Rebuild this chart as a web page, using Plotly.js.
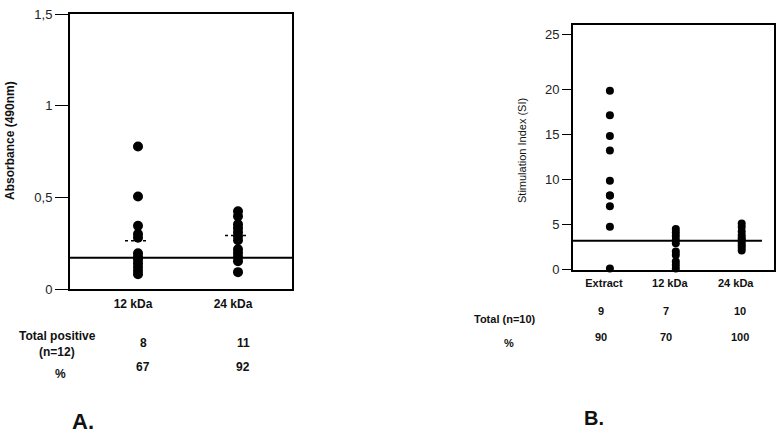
<!DOCTYPE html>
<html>
<head>
<meta charset="utf-8">
<script src="https://cdn.plot.ly/plotly-3.0.1.min.js"></script>
<style>html,body{margin:0;padding:0;background:#fff;}#chart{width:782px;height:438px;}</style>
</head>
<body>
<div id="chart"></div>
<script>
// ---- Panel A data (ELISA absorbance) ----
const catsA = ['12 kDa', '24 kDa'];
const abs12 = [0.777, 0.505, 0.345, 0.300, 0.280, 0.195, 0.175, 0.160, 0.140, 0.120, 0.100, 0.080];
const abs24 = [0.424, 0.397, 0.353, 0.332, 0.310, 0.288, 0.266, 0.217, 0.196, 0.174, 0.152, 0.092];
const meanA = [0.263, 0.292];
const cutoffA = 0.17;
const positiveA = [8, 11];
const pctA = [67, 92];
const yTicksA = [0, 0.5, 1, 1.5];
const yTextA = ['0', '0,5', '1', '1,5'];

// ---- Panel B data (stimulation index) ----
const catsB = ['Extract', '12 kDa', '24 kDa'];
const siExtract = [19.8, 17.1, 14.8, 13.2, 9.85, 8.2, 8.2, 7.0, 4.75, 0.1];
const si12 = [4.5, 4.1, 3.7, 3.3, 2.9, 2.0, 1.6, 0.9, 0.5, 0.1];
const si24 = [5.1, 4.7, 4.2, 3.8, 3.5, 3.3, 3.0, 2.7, 2.4, 2.1];
const cutoffB = 3.2;
const positiveB = [9, 7, 10];
const pctB = [90, 70, 100];
const yTicksB = [0, 5, 10, 15, 20, 26.1];
const yTextB = ['0', '5', '10', '15', '20', '25'];

const W = 782, H = 438;
const px = v => v / W;
const py = v => 1 - v / H;
const FONT = 'Arial, "Liberation Sans", sans-serif';

function dots(cat, vals, xa, ya, size) {
  return {
    type: 'scatter', mode: 'markers',
    x: vals.map(() => cat), y: vals,
    xaxis: xa, yaxis: ya,
    marker: {color: '#000', size: size, line: {width: 0}},
    cliponaxis: false, showlegend: false, hoverinfo: 'y'
  };
}

const data = [
  dots(catsA[0], abs12, 'x', 'y', 10),
  dots(catsA[1], abs24, 'x', 'y', 10),
  dots(catsB[0], siExtract, 'x2', 'y2', 8),
  dots(catsB[1], si12, 'x2', 'y2', 8),
  dots(catsB[2], si24, 'x2', 'y2', 8)
];

const shapes = [
  {type: 'line', xref: 'x domain', yref: 'y', x0: 0, x1: 1, y0: cutoffA, y1: cutoffA,
   line: {color: '#000', width: 2}},
  {type: 'line', xref: 'x2 domain', yref: 'y2', x0: 0, x1: 0.94, y0: cutoffB, y1: cutoffB,
   line: {color: '#000', width: 2}}
];
meanA.forEach((m, i) => {
  shapes.push({type: 'line', xref: 'x', yref: 'y', x0: i - 0.13, x1: i + 0.11, y0: m, y1: m,
    line: {color: '#000', width: 1.5, dash: 'dot'}});
});

const annotations = [];
function txt(x, y, text, size, bold, extra) {
  annotations.push(Object.assign({
    xref: 'paper', yref: 'paper', x: px(x), y: py(y), text: bold ? '<b>' + text + '</b>' : text,
    showarrow: false, xanchor: 'center', yanchor: 'middle',
    font: {family: FONT, size: size, color: '#111'}
  }, extra || {}));
}
// axis titles
txt(10, 141, 'Absorbance (490nm)', 12, true, {textangle: -90});
txt(522, 151, 'Stimulation Index (SI)', 11, false, {textangle: -90});
// table A
txt(57, 336, 'Total positive', 12, true);
txt(57, 352, '(n=12)', 12, true);
txt(60, 374, '%', 12, true);
positiveA.forEach((v, i) => annotations.push({xref: 'x', yref: 'paper', x: i, xshift: 5, y: py(352),
  text: '<b>' + v + '</b>', showarrow: false, font: {family: FONT, size: 12, color: '#111'}}));
pctA.forEach((v, i) => annotations.push({xref: 'x', yref: 'paper', x: i, xshift: 5, y: py(376),
  text: '<b>' + v + '</b>', showarrow: false, font: {family: FONT, size: 12, color: '#111'}}));
// table B
txt(505, 319, 'Total (n=10)', 11, true);
txt(509, 343, '%', 11, true);
positiveB.forEach((v, i) => annotations.push({xref: 'x2', yref: 'paper', x: i, xshift: [-9, -10, -2][i], y: py(319),
  text: '<b>' + v + '</b>', showarrow: false, font: {family: FONT, size: 11, color: '#111'}}));
pctB.forEach((v, i) => annotations.push({xref: 'x2', yref: 'paper', x: i, xshift: [-9, -10, -2][i], y: py(345),
  text: '<b>' + v + '</b>', showarrow: false, font: {family: FONT, size: 11, color: '#111'}}));
// panel letters
txt(83, 421, 'A.', 22, true);
txt(594, 418, 'B.', 20, true);

const axisCommon = {showgrid: false, zeroline: false, showline: true, linecolor: '#000', linewidth: 2, mirror: true, fixedrange: true};

const layout = {
  width: W, height: H,
  margin: {l: 0, r: 0, t: 0, b: 0},
  paper_bgcolor: '#fff', plot_bgcolor: '#fff',
  font: {family: FONT, color: '#111'},
  showlegend: false,
  xaxis: Object.assign({}, axisCommon, {
    domain: [px(70), px(292)], anchor: 'y', type: 'category', categoryarray: catsA,
    range: [-0.68, 1.54], ticks: '', ticklabelshift: -5, ticklabelstandoff: 3,
    tickfont: {family: FONT, size: 12, color: '#111', weight: 'bold'}
  }),
  yaxis: Object.assign({}, axisCommon, {
    domain: [py(289), py(14)], anchor: 'x', range: [0, 1.5],
    tickmode: 'array', tickvals: yTicksA, ticktext: yTextA,
    ticks: 'outside', ticklen: 13, tickwidth: 1, tickcolor: '#000',
    tickfont: {family: FONT, size: 13, color: '#222'}
  }),
  xaxis2: Object.assign({}, axisCommon, {
    domain: [px(573), px(774)], anchor: 'y2', type: 'category', categoryarray: catsB,
    range: [-0.56, 2.49], ticks: '', ticklabelshift: -6, ticklabelstandoff: 2,
    tickfont: {family: FONT, size: 11, color: '#111', weight: 'bold'}
  }),
  yaxis2: Object.assign({}, axisCommon, {
    domain: [py(269.5), py(25)], anchor: 'x2', range: [0, 27.1],
    tickmode: 'array', tickvals: yTicksB, ticktext: yTextB,
    ticks: 'outside', ticklen: 9, tickwidth: 1, tickcolor: '#000',
    tickfont: {family: FONT, size: 13, color: '#222'}
  }),
  shapes: shapes,
  annotations: annotations
};

Plotly.newPlot('chart', data, layout, {displayModeBar: false, staticPlot: true});
</script>
</body>
</html>
